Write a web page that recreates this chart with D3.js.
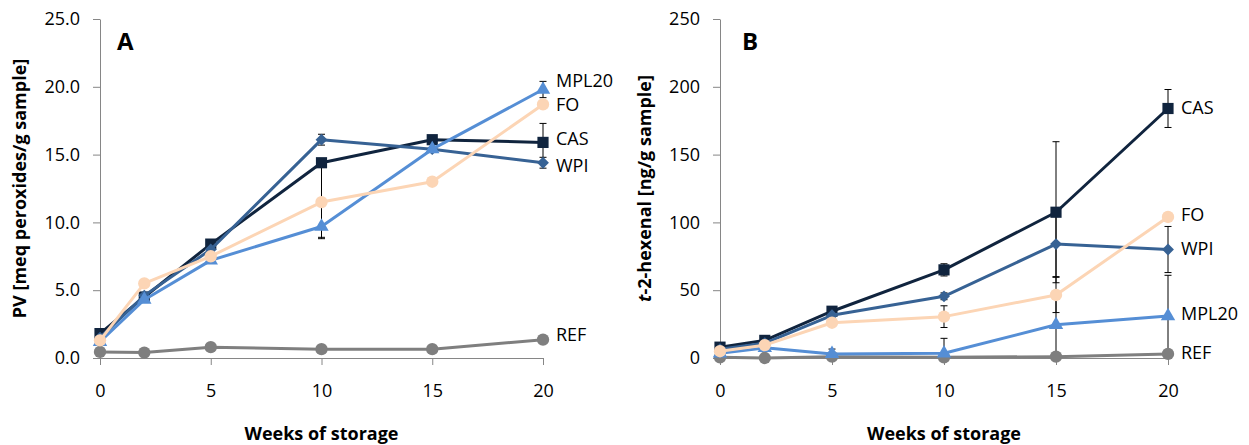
<!DOCTYPE html>
<html>
<head>
<meta charset="utf-8">
<script src="https://cdn.jsdelivr.net/npm/d3@7"></script>
<style>
  html, body { margin: 0; padding: 0; background: #fff; }
  svg { display: block; }
  text { font-family: "Open Sans", "Noto Sans", sans-serif; fill: #000; }
</style>
</head>
<body>
<svg id="chart" width="1249" height="445"></svg>
<script>
// Storage weeks (x values shared by both panels)
const weeks = [0, 2, 5, 10, 15, 20];
const xTicks = [0, 5, 10, 15, 20];

// Series names
const seriesNames = ["REF", "CAS", "WPI", "MPL20", "FO"];

// Panel A: peroxide value [meq peroxides/g sample]
const pvTicks = [0, 5, 10, 15, 20, 25];
const pvREF   = [0.45, 0.4, 0.8, 0.65, 0.65, 1.35];
const pvCAS   = [1.8, 4.5, 8.4, 14.4, 16.1, 15.9];
const pvWPI   = [1.5, 4.6, 8.0, 16.1, 15.4, 14.4];
const pvMPL20 = [1.2, 4.3, 7.2, 9.7, 15.4, 19.8];
const pvFO    = [1.3, 5.5, 7.5, 11.5, 13.0, 18.7];
// error bar half-widths (low / high)
const pvREFerrLo   = [0, 0, 0, 0, 0, 0];
const pvREFerrHi   = [0, 0, 0, 0, 0, 0];
const pvCASerrLo   = [0, 0, 0, 5.5, 0, 1.4];
const pvCASerrHi   = [0, 0, 0, 0, 0, 1.4];
const pvWPIerrLo   = [0, 0, 0, 0.4, 0, 0.4];
const pvWPIerrHi   = [0, 0, 0, 0.4, 0, 0.4];
const pvMPL20errLo = [0, 0, 0, 0.9, 0, 0.6];
const pvMPL20errHi = [0, 0, 0, 0, 0, 0.6];
const pvFOerrLo    = [0, 0, 0, 0, 0, 0];
const pvFOerrHi    = [0, 0, 0, 0, 0, 0];

// Panel B: t-2-hexenal [ng/g sample]
const hxTicks = [0, 50, 100, 150, 200, 250];
const hxREF   = [0.5, 0, 1, 0.5, 1, 3];
const hxCAS   = [8, 13, 34.5, 65, 107.5, 184];
const hxWPI   = [6.5, 11, 31.5, 45.5, 84, 80];
const hxMPL20 = [3.5, 7.5, 3, 3.5, 24.5, 31];
const hxFO    = [5, 9.5, 26, 30.5, 46.5, 104];
const hxREFerrLo   = [0, 0, 0, 0, 0, 0];
const hxREFerrHi   = [0, 0, 0, 0, 0, 0];
const hxCASerrLo   = [1, 1.5, 2, 4.5, 52, 14];
const hxCASerrHi   = [1, 1.5, 2, 4.5, 52, 14];
const hxWPIerrLo   = [0, 1, 1, 2.5, 24, 17];
const hxWPIerrHi   = [0, 1, 1, 2.5, 24, 17];
const hxMPL20errLo = [0, 0, 3, 0, 24.5, 31];
const hxMPL20errHi = [0, 0, 3.6, 11, 24.5, 30];
const hxFOerrLo    = [0, 1, 2, 8, 13, 0];
const hxFOerrHi    = [0, 1, 2, 8, 13, 0];

// Styling per series
const style = {
  REF:   { color: "#7f7f7f", symbol: "circle",   size: 120 },
  CAS:   { color: "#10243e", symbol: "square",   size: 125 },
  WPI:   { color: "#376294", symbol: "diamond",  size: 70 },
  MPL20: { color: "#558ed5", symbol: "triangle", size: 90 },
  FO:    { color: "#fcd5b5", symbol: "circle",   size: 120 }
};

const FONT = 18;
const svg = d3.select("#chart");

function symbolPath(kind, size) {
  if (kind === "diamond") return d3.symbol(d3.symbolSquare, size)();
  const t = { circle: d3.symbolCircle, square: d3.symbolSquare, triangle: d3.symbolTriangle }[kind];
  return d3.symbol(t, size)();
}

function drawPanel(cfg) {
  const x = d3.scaleLinear().domain([0, 20]).range([cfg.left, cfg.right]);
  const y = d3.scaleLinear().domain([0, cfg.ymax]).range([cfg.bottom, cfg.top]);
  const g = svg.append("g");
  const axisColor = "#868686";

  // y axis
  const ya = g.append("g").attr("transform", `translate(${cfg.left},0)`)
    .call(d3.axisLeft(y).tickValues(cfg.yTicks).tickFormat(cfg.yFormat).tickSizeInner(7).tickSizeOuter(0).tickPadding(13));
  ya.select(".domain").attr("stroke", axisColor);
  ya.selectAll(".tick line").attr("stroke", axisColor);
  ya.selectAll(".tick text").attr("font-size", FONT).attr("font-family", "Open Sans").attr("fill", "#1a1a1a");

  // x axis
  const xa = g.append("g").attr("transform", `translate(0,${cfg.bottom})`)
    .call(d3.axisBottom(x).tickValues(xTicks).tickFormat(d3.format("d")).tickSizeInner(7).tickSizeOuter(0).tickPadding(19));
  xa.select(".domain").attr("stroke", axisColor);
  xa.selectAll(".tick line").attr("stroke", axisColor);
  xa.selectAll(".tick text").attr("font-size", FONT).attr("font-family", "Open Sans").attr("fill", "#1a1a1a");

  // axis titles
  g.append("text")
    .attr("x", (cfg.left + cfg.right) / 2).attr("y", 440)
    .attr("text-anchor", "middle").attr("font-size", FONT).attr("font-weight", "bold")
    .text("Weeks of storage");

  const yt = g.append("text")
    .attr("transform", `translate(${cfg.yTitleX},${(cfg.top + cfg.bottom) / 2}) rotate(-90)`)
    .attr("text-anchor", "middle").attr("font-size", FONT).attr("font-weight", "bold");
  cfg.yTitle.forEach(p => yt.append("tspan").attr("font-style", p.italic ? "italic" : "normal").text(p.text));

  // panel letter
  g.append("text").attr("x", cfg.letterX).attr("y", 50)
    .attr("font-family", "Liberation Sans, Arial, sans-serif").attr("font-size", 24).attr("font-weight", "bold")
    .text(cfg.letter);

  const line = d3.line().x(d => x(d.w)).y(d => y(d.v));

  const series = seriesNames.map(name => ({
    name,
    pts: weeks.map((w, i) => ({ w, v: cfg.values[name][i], lo: cfg.errLo[name][i], hi: cfg.errHi[name][i] }))
  }));

  // error bars
  const eb = g.append("g").attr("stroke", "#000").attr("stroke-width", 1);
  series.forEach(s => {
    s.pts.forEach(p => {
      if (p.lo > 0) {
        eb.append("line").attr("x1", x(p.w)).attr("x2", x(p.w)).attr("y1", y(p.v)).attr("y2", y(p.v - p.lo));
        eb.append("line").attr("x1", x(p.w) - 3.5).attr("x2", x(p.w) + 3.5).attr("y1", y(p.v - p.lo)).attr("y2", y(p.v - p.lo));
      }
      if (p.hi > 0) {
        eb.append("line").attr("x1", x(p.w)).attr("x2", x(p.w)).attr("y1", y(p.v)).attr("y2", y(p.v + p.hi));
        eb.append("line").attr("x1", x(p.w) - 3.5).attr("x2", x(p.w) + 3.5).attr("y1", y(p.v + p.hi)).attr("y2", y(p.v + p.hi));
      }
    });
  });

  // lines and markers
  series.forEach(s => {
    const st = style[s.name];
    g.append("path").datum(s.pts).attr("d", line)
      .attr("fill", "none").attr("stroke", st.color).attr("stroke-width", 3).attr("stroke-linejoin", "round");
    g.selectAll(null).data(s.pts).enter().append("path")
      .attr("d", symbolPath(st.symbol, st.size))
      .attr("transform", d => `translate(${x(d.w)},${y(d.v)})${st.symbol === "diamond" ? " rotate(45)" : ""}`)
      .attr("fill", st.color);
  });

  // series labels at the last point
  seriesNames.forEach(name => {
    const v = cfg.values[name][weeks.length - 1];
    g.append("text")
      .attr("x", x(20) + 13).attr("y", y(v) + cfg.labelDy[name])
      .attr("dy", "0.35em").attr("font-size", FONT).attr("fill", "#1a1a1a")
      .text(name);
  });
}

drawPanel({
  left: 100, right: 543, top: 19, bottom: 358, ymax: 25,
  yTicks: pvTicks, yFormat: d3.format(".1f"),
  yTitle: [{ text: "PV [meq peroxides/g sample]" }], yTitleX: 26,
  letter: "A", letterX: 117,
  values: { REF: pvREF, CAS: pvCAS, WPI: pvWPI, MPL20: pvMPL20, FO: pvFO },
  errLo: { REF: pvREFerrLo, CAS: pvCASerrLo, WPI: pvWPIerrLo, MPL20: pvMPL20errLo, FO: pvFOerrLo },
  errHi: { REF: pvREFerrHi, CAS: pvCASerrHi, WPI: pvWPIerrHi, MPL20: pvMPL20errHi, FO: pvFOerrHi },
  labelDy: { REF: -5, CAS: -4, WPI: 3, MPL20: -9, FO: 0 }
});

drawPanel({
  left: 720, right: 1168, top: 19, bottom: 358, ymax: 250,
  yTicks: hxTicks, yFormat: d3.format("d"),
  yTitle: [{ text: "t", italic: true }, { text: "-2-hexenal [ng/g sample]" }], yTitleX: 651,
  letter: "B", letterX: 742,
  values: { REF: hxREF, CAS: hxCAS, WPI: hxWPI, MPL20: hxMPL20, FO: hxFO },
  errLo: { REF: hxREFerrLo, CAS: hxCASerrLo, WPI: hxWPIerrLo, MPL20: hxMPL20errLo, FO: hxFOerrLo },
  errHi: { REF: hxREFerrHi, CAS: hxCASerrHi, WPI: hxWPIerrHi, MPL20: hxMPL20errHi, FO: hxFOerrHi },
  labelDy: { REF: -1, CAS: -1, WPI: -1, MPL20: -2, FO: -2 }
});
</script>
</body>
</html>
